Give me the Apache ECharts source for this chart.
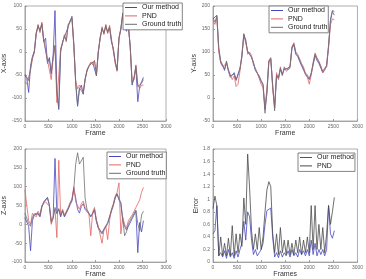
<!DOCTYPE html>
<html lang="en">
<head>
<meta charset="UTF-8">
<title>Tracking results</title>
<script src="https://cdn.jsdelivr.net/npm/echarts@6/dist/echarts.min.js"></script>
<style>html,body{margin:0;padding:0;background:#fff;}</style>
</head>
<body>
<div id="main" style="width:366px;height:279px"></div>
<script>
// sampled frame numbers (every 40 frames)
var frames = [0,40,80,120,160,200,240,280,320,360,400,440,480,520,560,600,640,680,720,760,
    800,840,880,920,960,1000,1040,1080,1120,1160,1200,1240,1280,1320,1360,1400,1440,1480,1520,1560,
    1600,1640,1680,1720,1760,1800,1840,1880,1920,1960,2000,2040,2080,2120,2160,2200,2240,2280,2320,2360,
    2400,2440,2480,2520];

// X-axis
var xTruth = [-48,-55,-62,-35,-12,0,40,58,45,62,
    25,28,-20,-15,-45,-10,15,-90,-120,5,
    20,35,25,58,65,78,15,-65,-115,-78,
    -75,-90,-60,-40,-32,-25,-25,-20,-50,0,
    30,52,40,58,42,55,25,5,-20,-40,
    30,50,85,58,48,58,10,-68,-58,-30,
    -75,-78,-68,-60];
var xOurs = [-50,-58,-88,-30,-10,2,42,55,48,60,
    22,30,-25,-12,-48,-8,90,-85,-125,0,
    22,32,28,55,68,75,18,-70,-118,-80,
    -72,-92,-58,-42,-30,-28,-22,-25,-52,-2,
    32,50,42,55,45,52,22,8,-22,-38,
    28,52,82,60,45,55,12,-72,-55,-35,
    -108,-75,-65,-55];
var xPnd = [-65,-70,-68,-40,-15,-2,38,60,42,65,
    28,25,-18,-20,-60,-15,12,-110,-108,8,
    18,38,22,60,62,72,12,-62,-80,-72,
    -70,-85,-62,-38,-35,-22,-28,-18,-48,2,
    28,55,38,60,40,58,28,2,-25,-42,
    32,48,78,55,50,60,8,-65,-60,-28,
    -70,-80,-72,-72];

// Y-axis
var yTruth = [175,165,178,110,78,70,63,78,62,48,
    48,52,38,35,62,92,140,125,100,98,
    90,75,62,62,45,36,28,-33,15,80,
    86,25,-28,50,45,65,50,65,62,62,
    68,110,118,98,92,95,72,70,55,50,
    42,55,75,95,85,78,68,58,65,70,
    115,168,188,180];
var yOurs = [172,168,180,105,80,72,60,80,58,45,
    42,55,40,38,65,88,138,120,102,95,
    88,78,60,58,48,38,30,-25,10,78,
    84,28,-22,48,42,62,52,62,60,65,
    70,108,115,95,90,92,70,72,52,48,
    40,52,72,92,82,75,65,55,62,68,
    110,170,190,188];
var yPnd = [168,160,175,100,75,68,65,75,60,50,
    40,48,25,30,58,95,135,128,95,100,
    92,72,65,55,42,30,22,-20,20,82,
    88,20,-18,55,40,68,48,68,58,60,
    65,112,120,100,95,98,75,68,50,45,
    30,50,78,98,88,80,70,55,60,72,
    112,160,172,170];

// Z-axis
var zTruth = [30,25,2,-5,18,28,25,30,22,48,
    58,62,70,52,5,15,45,28,42,22,
    35,22,32,42,55,65,95,160,190,160,
    155,178,70,40,30,22,30,40,10,-8,
    -15,-22,-12,-8,5,8,38,52,72,82,
    68,58,15,-30,-20,2,5,20,15,38,
    2,-18,25,35];
var zOurs = [18,15,-5,-70,10,25,22,28,20,45,
    60,65,72,50,10,18,175,30,40,20,
    38,20,30,40,52,62,95,70,40,30,
    48,55,40,35,28,20,28,38,8,-10,
    -18,-25,-15,-10,2,5,35,50,70,80,
    65,55,10,-5,-15,-5,0,15,10,35,
    -75,5,-20,10];
var zPnd = [92,88,10,0,30,25,20,35,25,50,
    55,60,65,48,0,20,40,-35,170,25,
    40,25,35,45,58,68,100,60,50,40,
    55,62,45,38,30,-30,32,45,12,-5,
    -10,-50,-15,-5,-40,10,40,55,75,85,
    110,-25,20,0,-10,10,15,25,30,45,
    55,65,85,98];

// Error
var errOurs = [0.45,0.5,0.9,0.1,0.15,0.08,0.18,0.06,0.2,0.08,
    0.15,0.06,0.18,0.08,0.2,0.3,0.65,0.35,0.8,0.72,
    0.35,0.12,0.2,0.1,0.15,0.2,0.3,0.6,0.82,0.85,
    0.86,0.4,0.08,0.15,0.07,0.18,0.08,0.15,0.1,0.18,
    0.08,0.2,0.1,0.15,0.08,0.2,0.12,0.18,0.1,0.2,
    0.1,0.35,0.12,0.3,0.1,0.2,0.12,0.2,0.1,0.2,
    0.9,0.45,0.38,0.5];
var errPnd = [0.85,1.05,0.9,0.1,0.4,0.1,0.3,0.1,0.38,0.1,
    0.58,0.1,0.45,0.15,0.45,0.25,1.02,0.6,1.72,1.18,
    0.5,0.2,0.45,0.2,0.55,0.2,0.4,0.8,1.15,1.28,
    1.2,0.45,0.15,0.45,0.12,0.55,0.15,0.35,0.12,0.35,
    0.12,0.3,0.12,0.35,0.15,0.4,0.12,0.35,0.15,0.4,
    0.15,0.9,0.2,0.9,0.2,0.6,0.2,0.55,0.15,0.45,
    0.9,0.6,0.8,1.03];

var BLUE = '#4646c0', RED = '#e06464', GRAY = '#6e6e6e', DARK = '#4a4a4a';

function pairs(vals) {
    return frames.map(function (f, i) { return [f, vals[i]]; });
}
function plain(v) { return String(v); }

function xAxisFor(i, name, gap) {
    return {
        gridIndex: i, type: 'value', min: 0, max: 3000, interval: 500,
        name: name, nameLocation: 'middle', nameGap: gap,
        nameTextStyle: {fontSize: 7, color: '#333'},
        axisLine: {onZero: false, lineStyle: {color: '#999', width: 0.8}},
        axisTick: {inside: true, length: 2, lineStyle: {color: '#999'}},
        axisLabel: {fontSize: 5, color: '#666', margin: 3, formatter: plain},
        splitLine: {show: false}
    };
}
function yAxisFor(i, name, gap, min, max, step) {
    return {
        gridIndex: i, type: 'value', min: min, max: max, interval: step,
        name: name, nameLocation: 'middle', nameGap: gap,
        nameTextStyle: {fontSize: 7, color: '#333'},
        axisLine: {onZero: false, lineStyle: {color: '#999', width: 0.8}},
        axisTick: {inside: true, length: 2, lineStyle: {color: '#999'}},
        axisLabel: {fontSize: 5, color: '#666', margin: 3, formatter: function (v) {
            return String(Math.round(v * 10) / 10);
        }},
        splitLine: {show: false}
    };
}
function line(i, name, vals, color) {
    return {
        type: 'line', name: name, xAxisIndex: i, yAxisIndex: i,
        data: pairs(vals), symbol: 'none', showSymbol: false,
        lineStyle: {width: 0.8, color: color}, itemStyle: {color: color}
    };
}
function legendAt(left, top, items) {
    return {
        left: left, top: top, orient: 'vertical',
        data: items, icon: 'rect', itemWidth: 12, itemHeight: 1, itemGap: 1.4,
        padding: [1, 1, 2, 2], borderColor: '#666', borderWidth: 0.8,
        backgroundColor: '#fff', textStyle: {fontSize: 7, color: '#222'}
    };
}

var chart = echarts.init(document.getElementById('main'));
var gridBox = {show: true, borderColor: '#999', borderWidth: 0.8};
var option = {
    animation: false,
    textStyle: {fontFamily: 'Liberation Sans, Arial, sans-serif'},
    grid: [
        Object.assign({left: 20, top: 6, width: 146, height: 115}, gridBox),
        Object.assign({left: 213, top: 6, width: 146, height: 115}, gridBox),
        Object.assign({left: 20, top: 149, width: 146, height: 116}, gridBox),
        Object.assign({left: 213, top: 149, width: 146, height: 115}, gridBox)
    ],
    xAxis: [
        xAxisFor(0, 'Frame', 8.5),
        xAxisFor(1, 'Frame', 8.5),
        xAxisFor(2, 'Frame', 7.5),
        xAxisFor(3, 'Frames', 8.5)
    ],
    yAxis: [
        yAxisFor(0, 'X-axis', 12, -150, 100, 50),
        yAxisFor(1, 'Y-axis', 11.5, -50, 200, 50),
        yAxisFor(2, 'Z-axis', 12, -100, 200, 50),
        yAxisFor(3, 'Error', 6, 0, 1.8, 0.2)
    ],
    legend: [
        legendAt(123, 3, ['Our method', 'PND', 'Ground truth']),
        legendAt(269, 6, ['Our method', 'PND', 'Ground truth']),
        legendAt(107, 152, ['Our method', 'PND', 'Ground truth']),
        legendAt(298, 153, [
            {name: 'Our method', itemStyle: {color: BLUE}},
            {name: 'PND', itemStyle: {color: DARK}}
        ])
    ],
    series: [
        line(0, 'Our method', xOurs, BLUE),
        line(0, 'PND', xPnd, RED),
        line(0, 'Ground truth', xTruth, GRAY),
        line(1, 'Our method', yOurs, BLUE),
        line(1, 'PND', yPnd, RED),
        line(1, 'Ground truth', yTruth, GRAY),
        line(2, 'Our method', zOurs, BLUE),
        line(2, 'PND', zPnd, RED),
        line(2, 'Ground truth', zTruth, GRAY),
        line(3, 'Our method', errOurs, BLUE),
        line(3, 'PND', errPnd, DARK)
    ]
};
chart.setOption(option);
</script>
</body>
</html>
